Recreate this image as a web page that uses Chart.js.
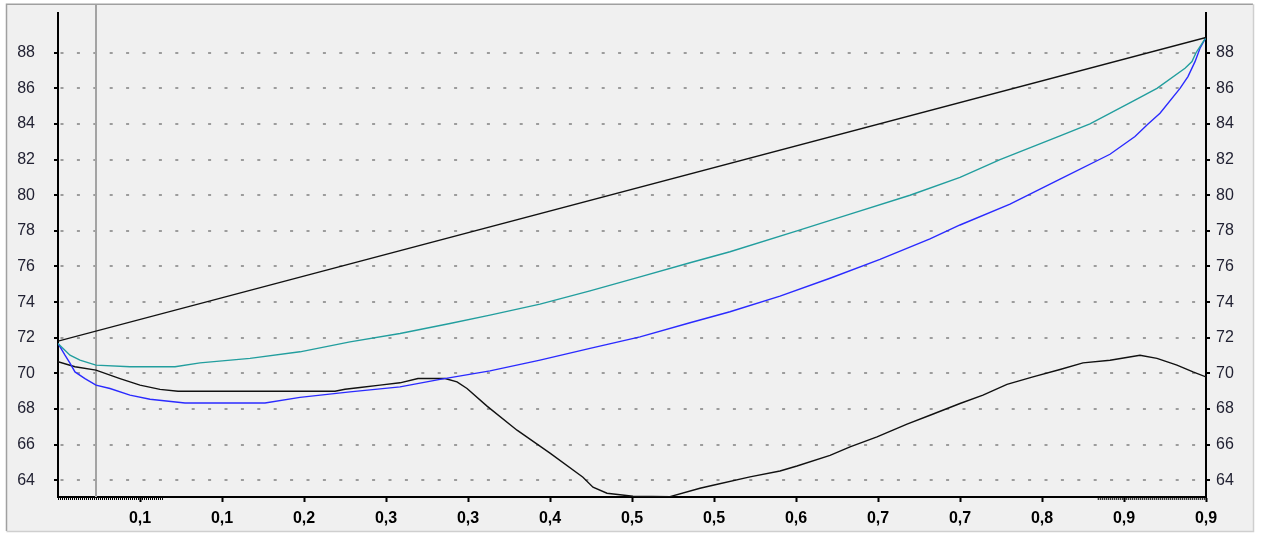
<!DOCTYPE html>
<html>
<head>
<meta charset="utf-8">
<script src="https://cdn.jsdelivr.net/npm/chart.js@4/dist/chart.umd.min.js"></script>
<style>
  html, body { margin: 0; padding: 0; background: #ffffff; overflow: hidden; }
  canvas { display: block; }
</style>
</head>
<body>
<canvas id="chart" width="1261" height="533"></canvas>
<script>
// X positions are measured in tick steps (0 = left axis, 14 = right axis).
const xTickPositions = [1, 2, 3, 4, 5, 6, 7, 8, 9, 10, 11, 12, 13, 14];
const xTickLabels = ['0,1', '0,1', '0,2', '0,3', '0,3', '0,4', '0,5', '0,5', '0,6', '0,7', '0,7', '0,8', '0,9', '0,9'];
const yTickValues = [64, 66, 68, 70, 72, 74, 76, 78, 80, 82, 84, 86, 88];

// Upper straight line
const upperX = [0, 14];
const upperY = [71.81, 88.86];

// Teal curve
const tealX = [0, 0.146, 0.268, 0.463, 0.878, 1.427, 1.732, 2.341, 2.951, 3.561, 4.171, 4.780, 5.268, 5.878,
  6.488, 7.098, 7.707, 8.195, 9.012, 9.659, 10.39, 11.0, 11.488, 12.22, 12.585, 13.134, 13.402, 13.744,
  13.829, 13.878, 14];
const tealY = [71.68, 71.02, 70.74, 70.46, 70.37, 70.37, 70.59, 70.84, 71.21, 71.77, 72.24, 72.80, 73.27, 73.89,
  74.63, 75.42, 76.21, 76.83, 78.0, 78.94, 80.0, 81.0, 82.0, 83.33, 84.0, 85.34, 86.0, 87.13,
  87.5, 88.0, 88.86];

// Blue curve
const blueX = [0, 0.085, 0.146, 0.207, 0.329, 0.463, 0.634, 0.878, 1.122, 1.549, 2.524, 2.951, 3.561, 4.171,
  4.659, 5.268, 5.878, 6.488, 7.098, 7.707, 8.195, 8.805, 9.415, 10.024, 10.634, 11.0, 11.61, 12.22,
  12.829, 13.134, 13.293, 13.439, 13.683, 13.78, 13.866, 13.927, 14];
const blueY = [71.68, 71.02, 70.57, 70.08, 69.71, 69.34, 69.15, 68.78, 68.55, 68.34, 68.34, 68.65, 68.96, 69.24,
  69.66, 70.14, 70.74, 71.40, 72.05, 72.84, 73.46, 74.34, 75.34, 76.4, 77.55, 78.33, 79.5, 80.9,
  82.3, 83.3, 84.0, 84.6, 86.0, 86.66, 87.5, 88.25, 88.86];

// Lower black curve
const lowerX = [0, 0.207, 0.463, 0.756, 1.0, 1.244, 1.463, 3.378, 3.5, 3.683, 3.927, 4.171, 4.39, 4.72,
  4.866, 4.988, 5.232, 5.598, 6.0, 6.402, 6.524, 6.695, 7.012, 7.463, 7.829, 7.988, 8.439, 8.805,
  9.012, 9.415, 9.659, 9.988, 10.354, 10.634, 11.0, 11.28, 11.573, 11.89, 12.22, 12.5, 12.83, 13.195,
  13.402, 13.646, 13.841, 14];
const lowerY = [70.65, 70.37, 70.18, 69.71, 69.34, 69.10, 69.00, 69.00, 69.11, 69.21, 69.34, 69.47, 69.71, 69.71,
  69.52, 69.15, 68.16, 66.81, 65.52, 64.17, 63.61, 63.27, 63.10, 63.08, 63.55, 63.72, 64.19, 64.52,
  64.80, 65.40, 65.87, 66.43, 67.15, 67.65, 68.31, 68.78, 69.38, 69.80, 70.22, 70.59, 70.74, 71.02,
  70.84, 70.46, 70.08, 69.80];

// Cursor position and the stretches of fine ticks on the x axis
const cursorX = 0.463;
const fineTickRanges = [[0, 1.28], [12.68, 14]];

const Y_MIN = 63.06;
const Y_MAX = 90.23;

function toPoints(xs, ys) {
  return xs.map((x, i) => ({ x: x, y: ys[i] }));
}

const framePlugin = {
  id: 'frame',
  beforeDraw(chart) {
    const c = chart.ctx;
    c.save();
    c.fillStyle = '#ffffff';
    c.fillRect(0, 0, chart.width, chart.height);
    c.fillStyle = '#f0f0f0';
    c.fillRect(7, 5, 1246, 526);
    c.lineWidth = 1.5;
    c.strokeStyle = '#a0a0a0';
    c.beginPath();
    c.moveTo(6.5, 531); c.lineTo(6.5, 4.25); c.lineTo(1253, 4.25);
    c.stroke();
    c.strokeStyle = '#cfcfcf';
    c.beginPath();
    c.moveTo(1253.5, 4.25); c.lineTo(1253.5, 531.5); c.lineTo(6.5, 531.5);
    c.stroke();
    c.restore();
  },
  beforeDatasetsDraw(chart) {
    const c = chart.ctx;
    const xs = chart.scales.x;
    const px = Math.round(xs.getPixelForValue(cursorX));
    c.save();
    c.strokeStyle = '#a3a3a3';
    c.lineWidth = 2;
    c.beginPath();
    c.moveTo(px, 5);
    c.lineTo(px, chart.chartArea.bottom);
    c.stroke();
    c.restore();
  },
  afterDraw(chart) {
    const c = chart.ctx;
    const xs = chart.scales.x;
    const y0 = chart.chartArea.bottom + 1;
    c.save();
    c.strokeStyle = '#000000';
    c.lineWidth = 2;
    c.setLineDash([1, 1]);
    fineTickRanges.forEach(([a, b]) => {
      c.beginPath();
      c.moveTo(xs.getPixelForValue(a), y0 + 1);
      c.lineTo(xs.getPixelForValue(b), y0 + 1);
      c.stroke();
    });
    c.restore();
  }
};

const yLabelFont = { family: "'Liberation Sans', Arial, sans-serif", size: 16 };

function yAxis(position, width, padding, onArea) {
  return {
    type: 'linear',
    position: position,
    bounds: 'data',
    min: Y_MIN,
    max: Y_MAX,
    afterBuildTicks: s => {
      s.min = Y_MIN;
      s.max = Y_MAX;
      s.ticks = yTickValues.map(v => ({ value: v }));
    },
    afterFit: s => {
      s.width = width;
      s.paddingTop = 0;
      s.paddingBottom = 0;
    },
    grid: {
      drawOnChartArea: onArea,
      drawTicks: true,
      color: '#9c9c9c',
      lineWidth: 2,
      tickLength: 4,
      tickColor: '#000000',
      tickWidth: 2
    },
    border: { display: true, color: '#000000', width: 2, dash: [3, 13.4], dashOffset: -1.5 },
    ticks: {
      callback: v => String(v),
      font: yLabelFont,
      color: '#222233',
      padding: padding
    }
  };
}

const lineStyle = { pointRadius: 0, borderWidth: 1.4, tension: 0, fill: false };

new Chart(document.getElementById('chart').getContext('2d'), {
  type: 'line',
  data: {
    datasets: [
      Object.assign({ label: 'upper', data: toPoints(upperX, upperY), borderColor: '#111111' }, lineStyle),
      Object.assign({ label: 'teal', data: toPoints(tealX, tealY), borderColor: '#229e9e' }, lineStyle),
      Object.assign({ label: 'blue', data: toPoints(blueX, blueY), borderColor: '#2a2aff' }, lineStyle),
      Object.assign({ label: 'lower', data: toPoints(lowerX, lowerY), borderColor: '#111111' }, lineStyle)
    ]
  },
  options: {
    responsive: false,
    animation: false,
    devicePixelRatio: 1,
    layout: { padding: { top: 13, left: 0, right: 0, bottom: 0 } },
    plugins: { legend: { display: false }, tooltip: { enabled: false } },
    scales: {
      x: {
        type: 'linear',
        position: 'bottom',
        min: 0,
        max: 14,
        afterBuildTicks: s => { s.ticks = xTickPositions.map(v => ({ value: v })); },
        afterFit: s => { s.height = 36; s.paddingLeft = 0; s.paddingRight = 0; },
        grid: { drawOnChartArea: false, drawTicks: true, tickLength: 5, tickColor: '#000000', tickWidth: 2 },
        border: { display: true, color: '#000000', width: 2 },
        ticks: {
          callback: (v, i) => xTickLabels[i],
          font: { family: "'Liberation Sans', Arial, sans-serif", size: 16, weight: 'bold' },
          color: '#000000',
          padding: 7,
          maxRotation: 0,
          autoSkip: false
        }
      },
      y: yAxis('left', 58, 19, true),
      y2: yAxis('right', 55, 6, false)
    }
  },
  plugins: [framePlugin]
});
</script>
</body>
</html>
